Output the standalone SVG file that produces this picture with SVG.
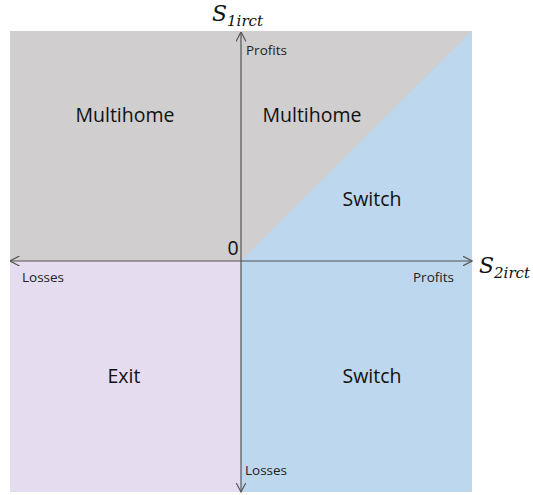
<svg xmlns="http://www.w3.org/2000/svg" width="533" height="495" viewBox="0 0 533 495">
<defs>
<style>
.region-label{font-family:"Open Sans","Liberation Sans",sans-serif;font-size:19.5px;fill:#111;text-anchor:middle}
.small{font-family:"Open Sans","Liberation Sans",sans-serif;font-size:13.5px;fill:#222}
.axis{stroke:#555;stroke-width:1.2;fill:none}
.math{font-family:"DejaVu Serif","Liberation Serif",serif;font-style:italic;fill:#111}
</style>
<marker id="arr" viewBox="0 0 10 10" refX="9.5" refY="5" markerWidth="10" markerHeight="10" markerUnits="userSpaceOnUse" orient="auto-start-reverse">
<path d="M0,0 L9.5,5 L0,10" fill="none" stroke="#555" stroke-width="1.2"/>
</marker>
</defs>
<g id="regions">
<rect id="gray" x="10" y="31" width="462" height="230" fill="#d0cece"/>
<rect id="pink" x="10" y="261" width="231" height="231" fill="#e6dcef"/>
<rect id="blue-low" x="241" y="261" width="231" height="231" fill="#bdd7ee"/>
<polygon id="blue-tri" points="241,261 472,31 472,261" fill="#bdd7ee"/>
</g>
<g id="connectors">
<line class="axis" x1="241" y1="492" x2="241" y2="32" marker-start="url(#arr)" marker-end="url(#arr)"/>
<line class="axis" x1="10" y1="261" x2="472" y2="261" marker-start="url(#arr)" marker-end="url(#arr)"/>
</g>
<g id="multihome-left"><text class="region-label" x="125" y="122">Multihome</text></g>
<g id="multihome-right"><text class="region-label" x="312" y="122">Multihome</text></g>
<g id="switch-upper"><text class="region-label" x="372" y="206">Switch</text></g>
<g id="switch-lower"><text class="region-label" x="372" y="383">Switch</text></g>
<g id="exit"><text class="region-label" x="124" y="383">Exit</text></g>
<g id="origin"><text class="region-label" x="233" y="255">0</text></g>
<g id="axis-labels">
<text class="small" x="246" y="55">Profits</text>
<text class="small" x="22" y="282">Losses</text>
<text class="small" x="413" y="282">Profits</text>
<text class="small" x="245" y="475">Losses</text>
<text class="math" x="212" y="21" font-size="22">S<tspan font-size="15" dy="5">1irct</tspan></text>
<text class="math" x="479" y="273" font-size="22">S<tspan font-size="15" dy="5">2irct</tspan></text>
</g>
</svg>
